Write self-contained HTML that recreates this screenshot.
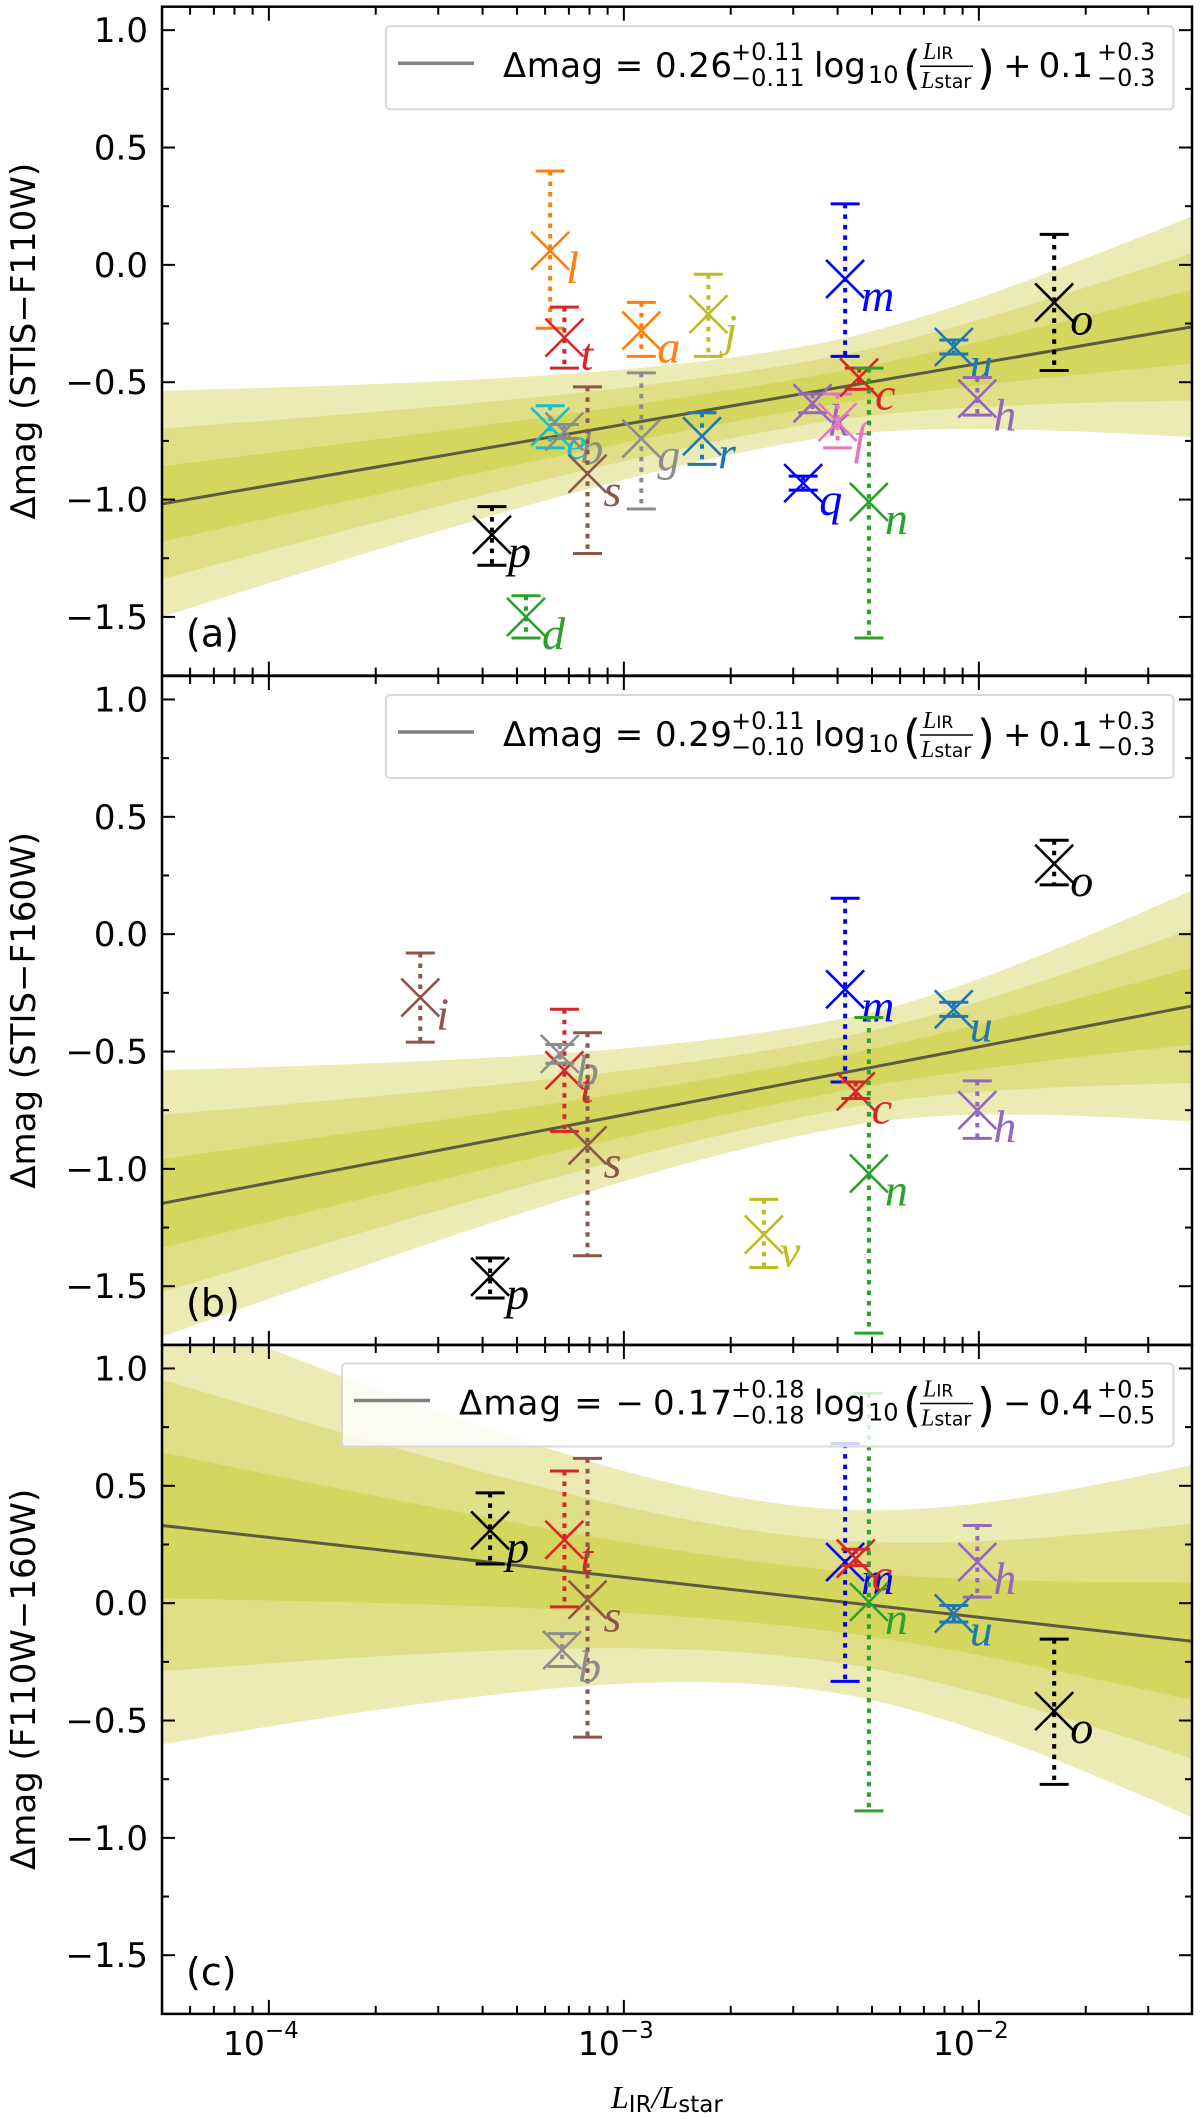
<!DOCTYPE html>
<html><head><meta charset="utf-8">
<style>
html,body{margin:0;padding:0;background:#fff;}
svg{display:block;}
text{font-family:"DejaVu Sans","Liberation Sans",sans-serif;}
.it{font-family:"Liberation Serif","DejaVu Serif",serif;font-style:italic;}
</style></head>
<body>
<svg id="fig" xmlns="http://www.w3.org/2000/svg" width="1200" height="2119" viewBox="0 0 1200 2119"></svg>
<script>
// ---------- data ----------
const panelA_names = ['l','t','e','b','s','g','a','j','r','p','d','m','q','k','f','c','n','u','h','o'];
const panelA_x     = [6.2e-4,6.8e-4,6.2e-4,6.8e-4,7.9e-4,1.12e-3,1.12e-3,1.73e-3,1.66e-3,4.25e-4,5.3e-4,4.2e-3,3.2e-3,3.4e-3,4.0e-3,4.6e-3,4.9e-3,8.5e-3,9.9e-3,1.63e-2];
const panelA_y     = [0.06,-0.31,-0.69,-0.71,-0.89,-0.74,-0.28,-0.21,-0.73,-1.15,-1.50,-0.06,-0.93,-0.59,-0.67,-0.48,-1.01,-0.35,-0.57,-0.16];
const panelA_lo    = [-0.27,-0.44,-0.78,-0.74,-1.23,-1.04,-0.39,-0.39,-0.85,-1.28,-1.59,-0.39,-0.96,-0.63,-0.78,-0.53,-1.59,-0.38,-0.64,-0.45];
const panelA_hi    = [0.40,-0.18,-0.60,-0.68,-0.52,-0.46,-0.16,-0.04,-0.63,-1.03,-1.41,0.26,-0.90,-0.55,-0.55,-0.44,-0.44,-0.32,-0.48,0.13];

const panelB_names = ['i','t','b','s','p','v','m','c','n','u','h','o'];
const panelB_x     = [2.67e-4,6.8e-4,6.6e-4,7.9e-4,4.2e-4,2.48e-3,4.2e-3,4.5e-3,4.9e-3,8.5e-3,9.9e-3,1.63e-2];
const panelB_y     = [-0.27,-0.58,-0.51,-0.90,-1.46,-1.28,-0.235,-0.67,-1.02,-0.32,-0.75,0.30];
const panelB_lo    = [-0.46,-0.84,-0.55,-1.37,-1.55,-1.42,-0.63,-0.70,-1.70,-0.35,-0.87,0.21];
const panelB_hi    = [-0.08,-0.32,-0.47,-0.42,-1.38,-1.13,0.153,-0.63,-0.355,-0.29,-0.625,0.40];

const panelC_names = ['p','t','s','b','m','c','n','u','h','o'];
const panelC_x     = [4.2e-4,6.8e-4,7.9e-4,6.7e-4,4.2e-3,4.5e-3,4.9e-3,8.5e-3,9.9e-3,1.63e-2];
const panelC_y     = [0.31,0.27,0.015,-0.20,0.175,0.19,0.005,-0.044,0.175,-0.46];
const panelC_lo    = [0.167,-0.016,-0.571,-0.27,-0.333,0.16,-0.885,-0.08,0.026,-0.772];
const panelC_hi    = [0.47,0.563,0.617,-0.13,0.68,0.23,0.894,-0.01,0.331,-0.153];

const fitSlope     = [0.26, 0.29, -0.17];
const fitIntercept = [0.1, 0.1, -0.4];
const bandPivot    = [-2.5, -2.4, -2.5];
const bandSigma0   = [0.067, 0.077, 0.129];
const bandGrowL    = [0.081, 0.091, 0.157];
const bandGrowR    = [0.129, 0.145, 0.195];

const legendSlope  = ['0.26','0.29','−\u20090.17'];
const legendSlopeUp= ['+0.11','+0.11','+0.18'];
const legendSlopeDn= ['−0.11','−0.10','−0.18'];
const legendInt    = ['+\u20090.1','+\u20090.1','−\u20090.4'];
const legendIntUp  = ['+0.3','+0.3','+0.5'];
const legendIntDn  = ['−0.3','−0.3','−0.5'];
const yTitles      = ['Δmag (STIS−F110W)','Δmag (STIS−F160W)','Δmag (F110W−160W)'];
const panelTags    = ['(a)','(b)','(c)'];
const yTicks       = [-1.5,-1.0,-0.5,0.0,0.5,1.0];
const yTickLabels  = ['−1.5','−1.0','−0.5','0.0','0.5','1.0'];
const xTickExp     = [-4,-3,-2];
const xTickLabels  = ['−4','−3','−2'];

const colorOf = {l:'#ff7f0e',a:'#ff7f0e',t:'#d62728',c:'#d62728',e:'#17becf',b:'#8c8c8c',g:'#8c8c8c',
  s:'#8c564b',i:'#8c564b',j:'#bcbd22',v:'#bcbd22',r:'#1f77b4',u:'#1f77b4',p:'#000000',o:'#000000',
  d:'#2ca02c',n:'#2ca02c',m:'#0000ff',q:'#0000ff',k:'#9467bd',h:'#9467bd',f:'#e377c2'};

// ---------- layout ----------
const NS='http://www.w3.org/2000/svg';
const svg=document.getElementById('fig');
const L=162, R=1192, PX=355, LOGMIN=Math.log10(5e-5), LOGMAX=LOGMIN+(R-L)/PX;
const PPU=234.7, YMAX=1.1, YMIN=-1.75;
const tops=[6.7,676,1345];
function xs(v){return L+(Math.log10(v)-LOGMIN)*PX;}
function xl(lg){return L+(lg-LOGMIN)*PX;}
function ys(v,p){return tops[p]+(YMAX-v)*PPU;}
function mk(tag,attrs,parent){const e=document.createElementNS(NS,tag);for(const k in attrs)e.setAttribute(k,attrs[k]);(parent||svg).appendChild(e);return e;}

const panels=[
 {names:panelA_names,x:panelA_x,y:panelA_y,lo:panelA_lo,hi:panelA_hi},
 {names:panelB_names,x:panelB_x,y:panelB_y,lo:panelB_lo,hi:panelB_hi},
 {names:panelC_names,x:panelC_x,y:panelC_y,lo:panelC_lo,hi:panelC_hi}];
const bandCols=['#ecebb6','#e0df88','#d5d65e'];
const H=(YMAX-YMIN)*PPU;

panels.forEach((P,pi)=>{
  const top=tops[pi], bot=top+H;
  const g=mk('g',{});
  
  
  const defs=mk('defs',{},g);
  const cp=mk('clipPath',{id:'clip'+pi},defs);
  mk('rect',{x:L,y:top,width:R-L,height:H},cp);
  const plot=mk('g',{'clip-path':'url(#clip'+pi+')'},g);
  const N=60;
  [3,2,1].forEach((k,bi)=>{
    let up=[],dn=[];
    for(let i=0;i<=N;i++){
      const lg=LOGMIN+(LOGMAX-LOGMIN)*i/N;
      const d=lg-bandPivot[pi];
      const gr=d<0?bandGrowL[pi]:bandGrowR[pi];
      const s=Math.sqrt(bandSigma0[pi]**2+(gr*d)**2);
      const m=fitSlope[pi]*lg+fitIntercept[pi];
      up.push([xl(lg),ys(m+k*s,pi)]);dn.push([xl(lg),ys(m-k*s,pi)]);
    }
    const pts=up.concat(dn.reverse()).map(p=>p[0].toFixed(1)+','+p[1].toFixed(1)).join(' ');
    const b=mk('polygon',{points:pts,fill:bandCols[bi]},plot);
    
    
  });
  const fl=mk('line',{x1:xl(LOGMIN),y1:ys(fitSlope[pi]*LOGMIN+fitIntercept[pi],pi),x2:xl(LOGMAX),y2:ys(fitSlope[pi]*LOGMAX+fitIntercept[pi],pi),stroke:'#5b5b40','stroke-width':3},plot);
  
  
  P.names.forEach((nm,i)=>{
    const c=colorOf[nm], cx=xs(P.x[i]), cy=ys(P.y[i],pi);
    const pg=mk('g',{},plot);
    
    
    const yl=ys(P.lo[i],pi), yh=ys(P.hi[i],pi);
    mk('line',{x1:cx,y1:yh,x2:cx,y2:yl,stroke:c,'stroke-width':4,'stroke-dasharray':'4.5 6'},pg);
    mk('line',{x1:cx-14.5,y1:yh,x2:cx+14.5,y2:yh,stroke:c,'stroke-width':3},pg);
    mk('line',{x1:cx-14.5,y1:yl,x2:cx+14.5,y2:yl,stroke:c,'stroke-width':3},pg);
    mk('path',{d:`M${cx-19},${cy-19}L${cx+19},${cy+19}M${cx-19},${cy+19}L${cx+19},${cy-19}`,stroke:c,'stroke-width':2.6,fill:'none'},pg);
    const t=mk('text',{x:cx+16,y:cy+32,class:'it','font-size':46,fill:c},pg);
    t.textContent=nm;
    
    
  });
  const ax=mk('g',{stroke:'#000','stroke-width':2},g);
  
  
  for(let v=-1.5;v<=1.0001;v+=0.25){
    const y=ys(v,pi); const major=Math.abs(v*2-Math.round(v*2))<1e-6; const len=major?13:7;
    mk('line',{x1:L,y1:y,x2:L+len,y2:y},ax);mk('line',{x1:R,y1:y,x2:R-len,y2:y},ax);
  }
  for(let d=-5;d<=-1;d++){for(let m=1;m<=9;m++){
    const lg=d+Math.log10(m); if(lg<LOGMIN||lg>LOGMAX)continue;
    const x=xl(lg), len=m===1?14:8;
    mk('line',{x1:x,y1:top,x2:x,y2:top+len},ax);mk('line',{x1:x,y1:bot,x2:x,y2:bot-len},ax);
  }}
  yTicks.forEach((v,i)=>{
    const t=mk('text',{x:148,y:ys(v,pi)+12,'text-anchor':'end','font-size':34,fill:'#000'},g);
    t.textContent=yTickLabels[i];
    
    
  });
  const cy=top+H/2;
  const yt=mk('text',{x:0,y:0,transform:`translate(35,${cy}) rotate(-90)`,'text-anchor':'middle','font-size':34,fill:'#000'},g);
  yt.textContent=yTitles[pi];
  
  
  const tg=mk('text',{x:186,y:top+640,'font-size':38,fill:'#000'},g);
  tg.textContent=panelTags[pi];
  
  
  const lx=pi===2?342:386, ly=top+(pi===0?19.5:(pi===1?19:18.5));
  const lg=mk('g',{},g);
  
  
  mk('rect',{x:lx,y:ly,width:1173.5-lx,height:83,rx:4,fill:'#fff','fill-opacity':0.82,stroke:'#d8d8d8','stroke-width':2},lg);
  const base=ly+51;
  const sh=pi===2?-44:0;
  mk('line',{x1:398+sh,y1:ly+37,x2:474+sh,y2:ly+37,stroke:'#808080','stroke-width':3.5},lg);
  const t1=mk('text',{x:503+sh,y:base,'font-size':34,textLength:229-sh,lengthAdjust:'spacing'},lg);
  t1.textContent='Δmag = '+legendSlope[pi];
  mk('text',{x:731,y:base-17,'font-size':24},lg).textContent=legendSlopeUp[pi];
  mk('text',{x:731,y:base+9,'font-size':24},lg).textContent=legendSlopeDn[pi];
  mk('text',{x:814,y:base,'font-size':34},lg).textContent='log';
  mk('text',{x:868,y:base+6,'font-size':24},lg).textContent='10';
  mk('text',{x:903,y:base+7,'font-size':46},lg).textContent='(';
  mk('text',{x:977,y:base+7,'font-size':46},lg).textContent=')';
  const f1=mk('text',{x:923,y:base-18,'font-size':24},lg);
  f1.innerHTML='<tspan class="it">L</tspan><tspan font-size="17">IR</tspan>';
  mk('line',{x1:920,y1:base-11,x2:973,y2:base-11,stroke:'#000','stroke-width':1.5},lg);
  const f2=mk('text',{x:921,y:base+11,'font-size':24},lg);
  f2.innerHTML='<tspan class="it">L</tspan><tspan font-size="19">star</tspan>';
  mk('text',{x:1003,y:base,'font-size':34,textLength:90,lengthAdjust:'spacing'},lg).textContent=legendInt[pi];
  mk('text',{x:1097,y:base-17,'font-size':24},lg).textContent=legendIntUp[pi];
  mk('text',{x:1097,y:base+9,'font-size':24},lg).textContent=legendIntDn[pi];
  const fr=mk('rect',{x:L,y:top,width:R-L,height:H,fill:'none',stroke:'#000','stroke-width':2.5},g);
  
  
});
xTickExp.forEach((e,i)=>{
  const x=xl(e);
  const t=mk('text',{x:x-8,y:2055,'text-anchor':'middle','font-size':33});
  t.innerHTML='10<tspan font-size="23" dy="-17">'+xTickLabels[i]+'</tspan>';
  
  
});
const xt=mk('text',{x:611,y:2108,'font-size':32});
xt.innerHTML='<tspan class="it">L</tspan><tspan font-size="23" dy="4">IR</tspan><tspan class="it" dy="-4">/L</tspan><tspan font-size="23" dy="4">star</tspan>';


</script>
</body></html>
